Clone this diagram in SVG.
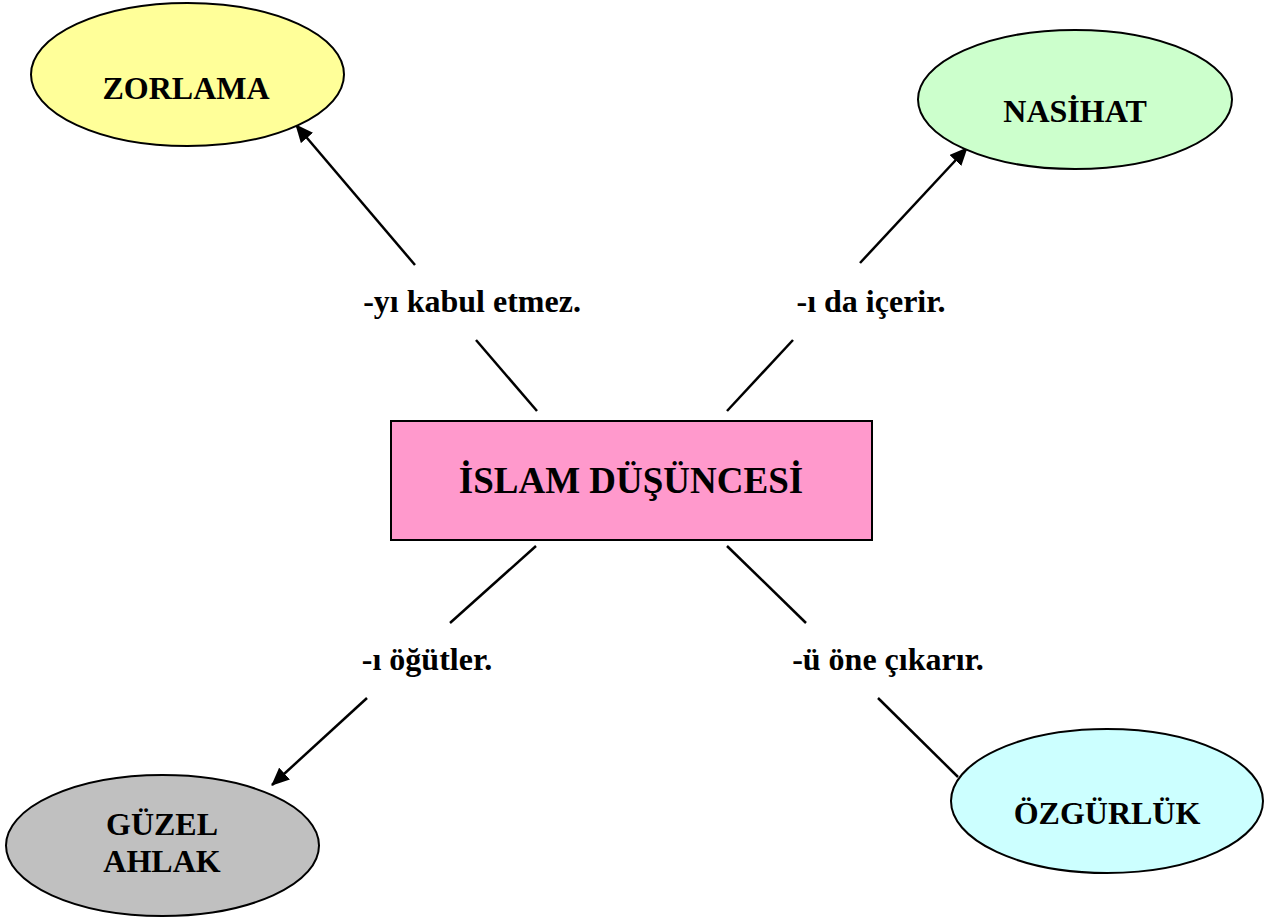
<svg xmlns="http://www.w3.org/2000/svg" width="1280" height="922" viewBox="0 0 1280 922">
<style>
  .node { stroke: #000; stroke-width: 2; }
  .lbl { font-family: "Liberation Serif", "Times New Roman", serif; font-weight: bold; font-size: 32px; fill: #000; text-anchor: middle; }
  .title { font-family: "Liberation Serif", "Times New Roman", serif; font-weight: bold; font-size: 37px; fill: #000; text-anchor: middle; }
  .conn { stroke: #000; stroke-width: 2.5; fill: none; }
</style>
<defs>
  <marker id="arrow" markerUnits="userSpaceOnUse" markerWidth="18" markerHeight="16" refX="17" refY="8" orient="auto">
    <path d="M0,0 L18,8 L0,16 Z" fill="#000"/>
  </marker>
</defs>
<rect width="1280" height="922" fill="#fff"/>

<g id="connectors">
  <line class="conn" x1="537" y1="411" x2="476" y2="340"/>
  <line class="conn" x1="415" y1="265" x2="296" y2="125" marker-end="url(#arrow)"/>
  <line class="conn" x1="727" y1="411" x2="793" y2="340"/>
  <line class="conn" x1="860" y1="263" x2="967" y2="148" marker-end="url(#arrow)"/>
  <line class="conn" x1="536" y1="546" x2="450" y2="623"/>
  <line class="conn" x1="367" y1="698" x2="272" y2="785" marker-end="url(#arrow)"/>
  <line class="conn" x1="727" y1="546" x2="806" y2="623"/>
  <line class="conn" x1="878" y1="698" x2="958" y2="777"/>
</g>

<g id="edge-labels">
  <text class="lbl" x="472" y="312">-yı kabul etmez.</text>
  <text class="lbl" x="871" y="312">-ı da içerir.</text>
  <text class="lbl" x="427" y="670">-ı öğütler.</text>
  <text class="lbl" x="888" y="670">-ü öne çıkarır.</text>
</g>

<g id="node-zorlama">
  <ellipse class="node" cx="187.5" cy="74.5" rx="156.5" ry="71.5" fill="#FFFF99"/>
  <text class="lbl" x="186" y="99">ZORLAMA</text>
</g>

<g id="node-nasihat">
  <ellipse class="node" cx="1075" cy="99.5" rx="157" ry="69.5" fill="#CCFFCC"/>
  <text class="lbl" x="1075" y="122">NASİHAT</text>
</g>

<g id="node-islam">
  <rect class="node" x="391" y="421" width="481" height="119" fill="#FF99CC"/>
  <text class="title" x="631" y="493">İSLAM DÜŞÜNCESİ</text>
</g>

<g id="node-guzel-ahlak">
  <ellipse class="node" cx="162.5" cy="845.5" rx="156.5" ry="70.5" fill="#C0C0C0"/>
  <text class="lbl" x="162" y="835">GÜZEL</text>
  <text class="lbl" x="162" y="872">AHLAK</text>
</g>

<g id="node-ozgurluk">
  <ellipse class="node" cx="1107" cy="801" rx="156" ry="72" fill="#CCFFFF"/>
  <text class="lbl" x="1107" y="824">ÖZGÜRLÜK</text>
</g>
</svg>
